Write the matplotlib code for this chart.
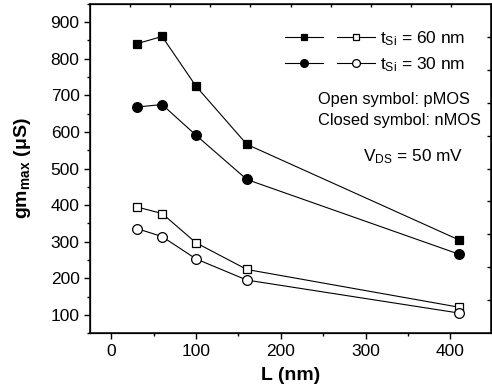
import matplotlib
matplotlib.use('Agg')
import matplotlib.pyplot as plt
from matplotlib.legend_handler import HandlerTuple
from matplotlib.ticker import MultipleLocator

plt.rcParams['font.family'] = ['Liberation Sans', 'DejaVu Sans']
plt.rcParams['mathtext.fontset'] = 'custom'
plt.rcParams['mathtext.rm'] = 'Liberation Sans'
plt.rcParams['mathtext.it'] = 'Liberation Sans:italic'
plt.rcParams['mathtext.bf'] = 'Liberation Sans:bold'

# data
L = [30, 60, 100, 160, 410]
n60 = [841, 861, 725, 566, 305]   # closed squares, nMOS tSi=60
n30 = [668, 675, 591, 470, 266]   # closed circles, nMOS tSi=30
p60 = [395, 377, 297, 224, 121]   # open squares, pMOS tSi=60
p30 = [336, 314, 253, 195, 105]   # open circles, pMOS tSi=30

fig = plt.figure(figsize=(4.92, 3.91), dpi=100)
ax = fig.add_axes([0.183, 0.148, 0.815, 0.842])

lw = 0.8
kw_sq = dict(marker='s', ms=6.2, color='black', lw=lw, mew=0.9)
kw_ci = dict(marker='o', ms=7.0, color='black', lw=lw, mew=0.9)
h1, = ax.plot(L, n60, mfc='black', **kw_sq)
h2, = ax.plot(L, n30, mfc='black', **kw_ci)
h3, = ax.plot(L, p60, mfc='white', **kw_sq)
h4, = ax.plot(L, p30, mfc='white', **kw_ci)

ax.set_xlim(-25, 448)
ax.set_ylim(50, 950)
ax.xaxis.set_major_locator(MultipleLocator(100))
ax.xaxis.set_minor_locator(MultipleLocator(50))
ax.yaxis.set_major_locator(MultipleLocator(100))
ax.yaxis.set_minor_locator(MultipleLocator(50))
ax.tick_params(which='major', direction='out', length=4.5, width=1, labelsize=12.5, pad=3)
ax.tick_params(which='minor', direction='out', length=2.5, width=1)
for s in ax.spines.values():
    s.set_linewidth(1.1)

# unlabeled top/right ticks
ax_t = ax.twiny()
ax_t.set_xlim(0, 1)
ax_t.set_xticks([i / 10 for i in range(1, 10)])
ax_t.tick_params(axis='x', direction='in', length=2.5, width=1, labeltop=False)
ax_r = ax.twinx()
ax_r.set_ylim(0, 1)
ax_r.set_yticks([i / 10 for i in range(1, 10)])
ax_r.tick_params(axis='y', direction='in', length=3, width=1, labelright=False)

ax.set_xlabel('L (nm)', fontsize=14, fontweight='bold', labelpad=6)
ax.set_ylabel(r'gm$_{\mathbf{max}}$ ($\mathbf{\mu}$S)', fontsize=14, fontweight='bold', labelpad=12.5)

ax.legend([(h1, h3), (h2, h4)],
          [r't$_{\mathrm{Si}}$ = 60 nm', r't$_{\mathrm{Si}}$ = 30 nm'],
          handler_map={tuple: HandlerTuple(ndivide=None, pad=0.8)},
          loc='upper left', bbox_to_anchor=(0.486, 0.924), frameon=False,
          fontsize=12.5, handlelength=5.2, handletextpad=0.25, labelspacing=0.45,
          markerscale=0.8, borderpad=0, borderaxespad=0)

ax.text(0.569, 0.711, 'Open symbol: pMOS', transform=ax.transAxes, fontsize=11.8, va='center')
ax.text(0.569, 0.647, 'Closed symbol: nMOS', transform=ax.transAxes, fontsize=11.8, va='center')
ax.text(0.681, 0.536, r'V$_{\mathrm{DS}}$ = 50 mV', transform=ax.transAxes, fontsize=12.4, va='center')

fig.savefig('out.png', dpi=100)
